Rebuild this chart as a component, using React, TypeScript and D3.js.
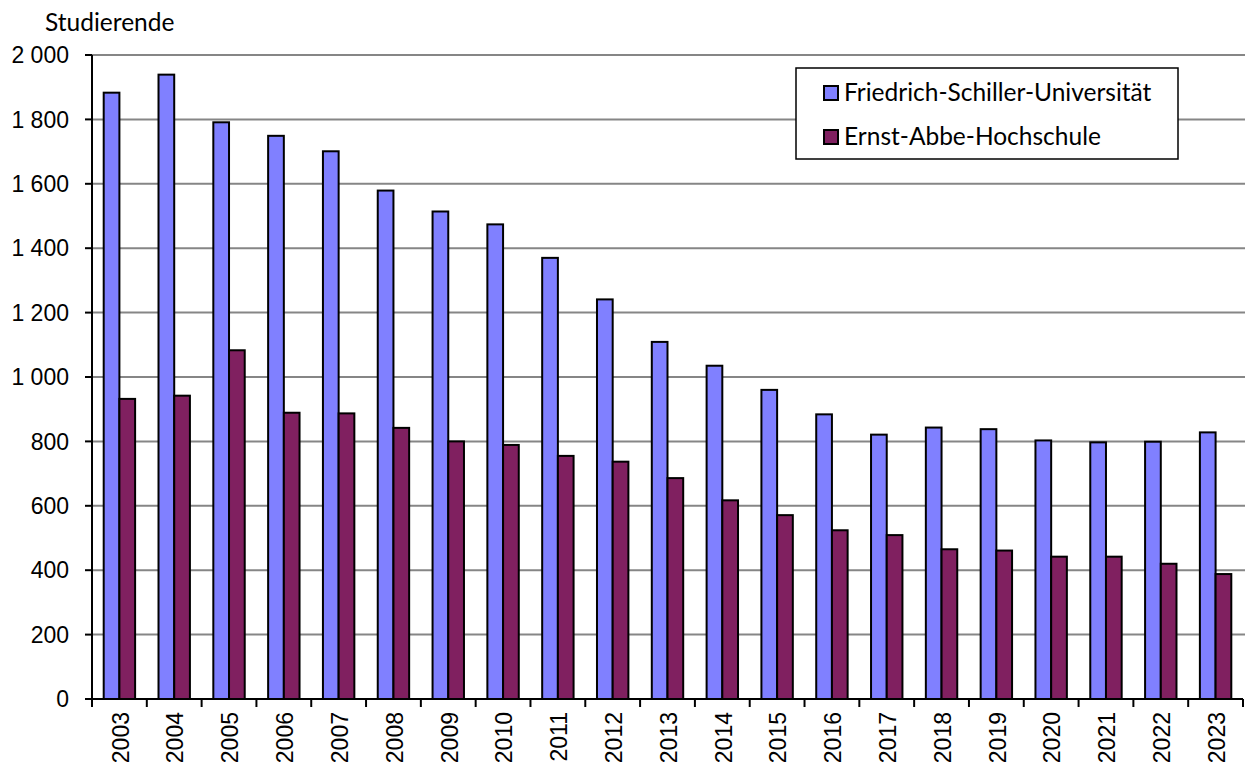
import * as d3 from "d3";
import { useEffect, useRef } from "react";

const years = [
  "2003", "2004", "2005", "2006", "2007", "2008", "2009", "2010", "2011", "2012", "2013",
  "2014", "2015", "2016", "2017", "2018", "2019", "2020", "2021", "2022", "2023",
];
const fsu = [
  1883, 1939, 1791, 1749, 1701, 1579, 1514, 1474, 1370, 1241, 1109,
  1035, 960, 884, 821, 843, 838, 803, 797, 799, 828,
];
const eah = [
  932, 942, 1083, 889, 887, 842, 800, 789, 755, 737, 686,
  617, 571, 524, 509, 465, 461, 442, 442, 420, 388,
];
const seriesNames = ["Friedrich-Schiller-Universität", "Ernst-Abbe-Hochschule"];
const yTicks = [0, 200, 400, 600, 800, 1000, 1200, 1400, 1600, 1800, 2000];
const yTitle = "Studierende";

const W = 1245;
const H = 767;
const LEFT = 92;
const RIGHT = 1243;
const TOP = 55;
const BOTTOM = 699;
const COLORS = ["#8080FF", "#802060"];
const GAP = 0.427;
const LABEL_FONT = "Lato, 'Open Sans', sans-serif";
const NUM_FONT = "'Liberation Sans', Arial, sans-serif";

const fmt = d3
  .formatLocale({ decimal: ",", thousands: " ", grouping: [3], currency: ["", ""] })
  .format(",");

export default function App() {
  const svgRef = useRef<SVGSVGElement>(null);

  useEffect(() => {
    const svg = d3.select(svgRef.current);
    svg.selectAll("*").remove();

    const x0 = d3
      .scaleBand()
      .domain(years)
      .range([LEFT, RIGHT])
      .paddingInner(GAP)
      .paddingOuter(GAP / 2);
    const x1 = d3.scaleBand().domain(seriesNames).range([0, x0.bandwidth()]);
    const y = d3.scaleLinear().domain([0, 2000]).range([BOTTOM, TOP]);

    // gridlines
    svg
      .append("g")
      .selectAll("line")
      .data(yTicks.filter((d) => d > 0))
      .enter()
      .append("line")
      .attr("x1", LEFT)
      .attr("x2", W)
      .attr("y1", (d) => y(d))
      .attr("y2", (d) => y(d))
      .attr("stroke", "#868686")
      .attr("stroke-width", 2);

    // bars
    const rows = years.map((yr, i) => ({ yr, vals: [fsu[i], eah[i]] }));
    const grp = svg
      .append("g")
      .selectAll("g")
      .data(rows)
      .enter()
      .append("g")
      .attr("transform", (d) => `translate(${x0(d.yr)},0)`);
    grp
      .selectAll("rect")
      .data((d) => d.vals.map((v, k) => ({ v, k })))
      .enter()
      .append("rect")
      .attr("x", (d) => x1(seriesNames[d.k])!)
      .attr("width", x1.bandwidth())
      .attr("y", (d) => y(d.v))
      .attr("height", (d) => y(0) - y(d.v))
      .attr("fill", (d) => COLORS[d.k])
      .attr("stroke", "#000")
      .attr("stroke-width", 2);

    // y axis
    svg
      .append("line")
      .attr("x1", LEFT)
      .attr("x2", LEFT)
      .attr("y1", TOP)
      .attr("y2", BOTTOM)
      .attr("stroke", "#000")
      .attr("stroke-width", 2);
    const yt = svg.append("g").selectAll("g").data(yTicks).enter().append("g");
    yt.append("line")
      .attr("x1", LEFT - 7)
      .attr("x2", LEFT)
      .attr("y1", (d) => y(d))
      .attr("y2", (d) => y(d))
      .attr("stroke", "#000")
      .attr("stroke-width", 2);
    yt.append("text")
      .attr("x", LEFT - 23)
      .attr("y", (d) => y(d))
      .attr("dy", "0.36em")
      .attr("text-anchor", "end")
      .attr("font-family", NUM_FONT)
      .attr("font-size", 23)
      .text((d) => fmt(d));

    // x axis
    svg
      .append("line")
      .attr("x1", LEFT)
      .attr("x2", RIGHT)
      .attr("y1", BOTTOM)
      .attr("y2", BOTTOM)
      .attr("stroke", "#000")
      .attr("stroke-width", 2);
    const step = x0.step();
    const bounds = [...years.map((yr) => x0(yr)! - (step * GAP) / 2), RIGHT];
    svg
      .append("g")
      .selectAll("line")
      .data(bounds)
      .enter()
      .append("line")
      .attr("x1", (d) => d)
      .attr("x2", (d) => d)
      .attr("y1", BOTTOM)
      .attr("y2", BOTTOM + 8)
      .attr("stroke", "#000")
      .attr("stroke-width", 2);
    svg
      .append("g")
      .selectAll("text")
      .data(years)
      .enter()
      .append("text")
      .attr(
        "transform",
        (d) => `translate(${x0(d)! + x0.bandwidth() / 2 + 1},${BOTTOM + 13}) rotate(-90)`
      )
      .attr("dy", "0.36em")
      .attr("text-anchor", "end")
      .attr("font-family", NUM_FONT)
      .attr("font-size", 23)
      .text((d) => d);

    // axis title
    svg
      .append("text")
      .attr("x", 45)
      .attr("y", 31)
      .attr("font-family", LABEL_FONT)
      .attr("font-size", 24.5)
      .text(yTitle);

    // legend
    const lg = svg.append("g");
    lg.append("rect")
      .attr("x", 796)
      .attr("y", 68)
      .attr("width", 382)
      .attr("height", 91)
      .attr("fill", "#fff")
      .attr("stroke", "#000")
      .attr("stroke-width", 1.5);
    const items = lg
      .selectAll("g")
      .data(seriesNames)
      .enter()
      .append("g")
      .attr("transform", (_, i) => `translate(824,${86 + i * 44})`);
    items
      .append("rect")
      .attr("width", 14)
      .attr("height", 14)
      .attr("fill", (_, i) => COLORS[i])
      .attr("stroke", "#000")
      .attr("stroke-width", 2);
    items
      .append("text")
      .attr("x", 20)
      .attr("y", 14.5)
      .attr("font-family", LABEL_FONT)
      .attr("font-size", 24.5)
      .text((d) => d);
  }, []);

  return (
    <>
      <style>{`body{margin:0}`}</style>
      <svg ref={svgRef} width={W} height={H} style={{ display: "block", background: "#fff" }} />
    </>
  );
}
